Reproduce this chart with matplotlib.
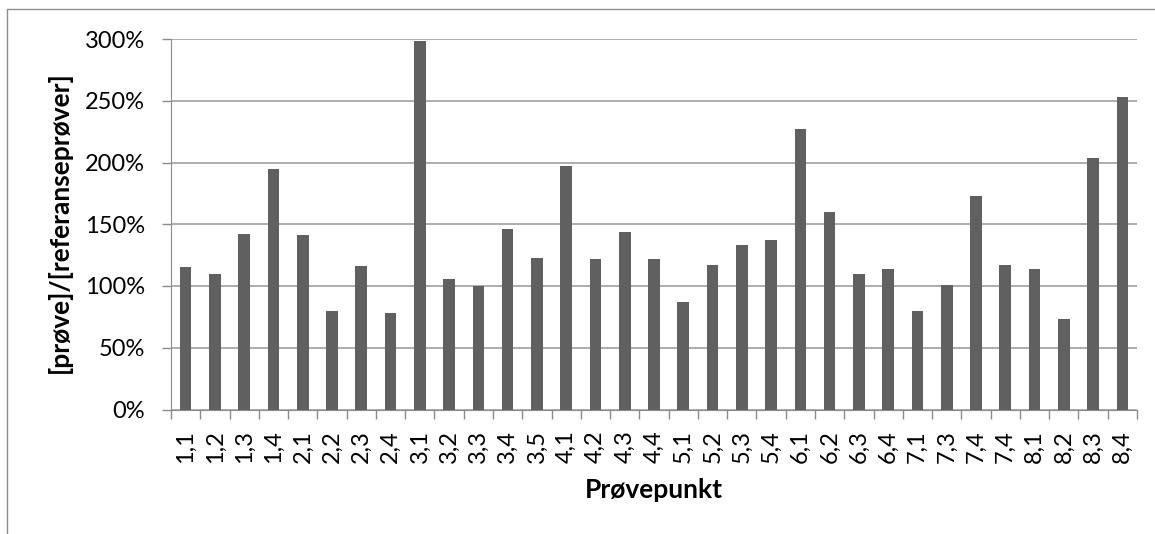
import matplotlib.pyplot as plt
from matplotlib.ticker import FixedLocator, PercentFormatter
from matplotlib.patches import Rectangle

# sample points and ratio [prøve]/[referanseprøver] in %
punkter = ["1,1", "1,2", "1,3", "1,4", "2,1", "2,2", "2,3", "2,4",
           "3,1", "3,2", "3,3", "3,4", "3,5", "4,1", "4,2", "4,3", "4,4",
           "5,1", "5,2", "5,3", "5,4", "6,1", "6,2", "6,3", "6,4",
           "7,1", "7,3", "7,4", "7,4", "8,1", "8,2", "8,3", "8,4"]
forhold = [115, 110, 142, 195, 141, 80, 116, 78,
           298, 106, 100, 146, 123, 197, 122, 144, 122,
           87, 117, 133, 137, 227, 160, 110, 114,
           80, 101, 173, 117, 114, 73, 204, 253]

plt.rcParams['font.family'] = ['Lato', 'DejaVu Sans']

fig = plt.figure(figsize=(11.55, 5.34), dpi=100)
ax = fig.add_axes([171 / 1155, (534 - 409.5) / 534, 966 / 1155, 370.5 / 534])

# outer chart border
fig.patches.append(Rectangle((7 / 1155, -0.1), 1.2, 1 - 9 / 534 + 0.1,
                             transform=fig.transFigure, fill=False,
                             edgecolor="#8c8c8c", linewidth=1))

x = range(len(punkter))
ax.bar(x, forhold, width=0.4, color="#606060", zorder=3)

ax.set_xlim(-0.5, len(punkter) - 0.5)
ax.set_ylim(0, 300)
ax.set_yticks(range(0, 301, 50))
ax.yaxis.set_major_formatter(PercentFormatter(decimals=0))
ax.grid(axis="y", color="#a0a0a0", linewidth=1.2, zorder=0)

ax.set_xticks(list(x))
ax.set_xticklabels(punkter, rotation=90)
ax.xaxis.set_minor_locator(FixedLocator([i - 0.5 for i in range(len(punkter) + 1)]))
ax.tick_params(axis="x", which="major", length=0, pad=15, labelsize=17)
ax.tick_params(axis="x", which="minor", length=6.5, color="#8c8c8c", width=1)
ax.tick_params(axis="y", length=6.5, color="#8c8c8c", width=1, labelsize=17, pad=12)

for s in ["top", "right"]:
    ax.spines[s].set_visible(False)
for s in ["left", "bottom"]:
    ax.spines[s].set_color("#8c8c8c")

fig.text(59 / 1155, 1 - 222 / 534, "[prøve]/[referanseprøver]", rotation=90,
         fontsize=19, fontweight="bold", ha="center", va="center")
fig.text(654 / 1155, 1 - 490 / 534, "Prøvepunkt",
         fontsize=19, fontweight="bold", ha="center", va="center")

fig.savefig("out.png", dpi=100)
